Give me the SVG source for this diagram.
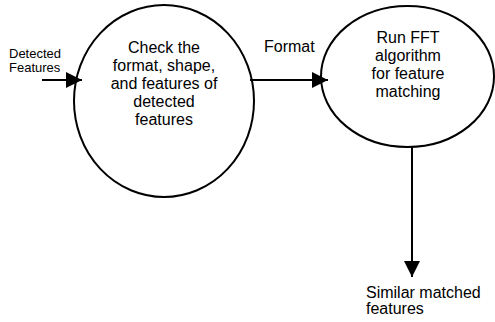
<svg xmlns="http://www.w3.org/2000/svg" width="495" height="322" viewBox="0 0 495 322">
  <style>
    .shape { fill: #ffffff; stroke: #000000; stroke-width: 2; }
    .edge { fill: none; stroke: #000000; stroke-width: 2; }
    text { font-family: "Liberation Sans", Arial, sans-serif; fill: #000000; }
    .label { font-size: 16px; }
    .small { font-size: 13px; }
    .mid { text-anchor: middle; }
  </style>
  <defs>
    <marker id="arrow" viewBox="0 0 16 16" refX="16" refY="8" markerWidth="16" markerHeight="16" markerUnits="userSpaceOnUse" orient="auto">
      <path d="M0,0 L16,8 L0,16 Z" fill="#000000"/>
    </marker>
  </defs>

  <rect width="495" height="322" fill="#ffffff"/>

  <!-- process: check detected features -->
  <g id="check-node">
    <ellipse class="shape" cx="164" cy="101" rx="90" ry="96"/>
    <text class="label mid" x="164" y="53">Check the</text>
    <text class="label mid" x="164" y="71">format, shape,</text>
    <text class="label mid" x="164" y="89">and features of</text>
    <text class="label mid" x="164" y="107">detected</text>
    <text class="label mid" x="164" y="125">features</text>
  </g>

  <!-- process: FFT matching -->
  <g id="fft-node">
    <ellipse class="shape" cx="407.5" cy="76.5" rx="86.5" ry="70.5"/>
    <text class="label mid" x="408" y="43">Run FFT</text>
    <text class="label mid" x="408" y="61">algorithm</text>
    <text class="label mid" x="408" y="79">for feature</text>
    <text class="label mid" x="408" y="97">matching</text>
  </g>

  <!-- connectors -->
  <g id="connectors">
    <line class="edge" x1="42" y1="80" x2="82" y2="80" marker-end="url(#arrow)"/>
    <line class="edge" x1="250" y1="80" x2="328" y2="80" marker-end="url(#arrow)"/>
    <line class="edge" x1="412" y1="147" x2="412" y2="277" marker-end="url(#arrow)"/>
  </g>

  <!-- flow labels -->
  <g id="labels">
    <text class="small" x="9" y="58">Detected</text>
    <text class="small" x="9" y="72">Features</text>
    <text class="label" x="264" y="52">Format</text>
    <text class="label" x="366" y="298">Similar matched</text>
    <text class="label" x="366" y="314">features</text>
  </g>
</svg>
